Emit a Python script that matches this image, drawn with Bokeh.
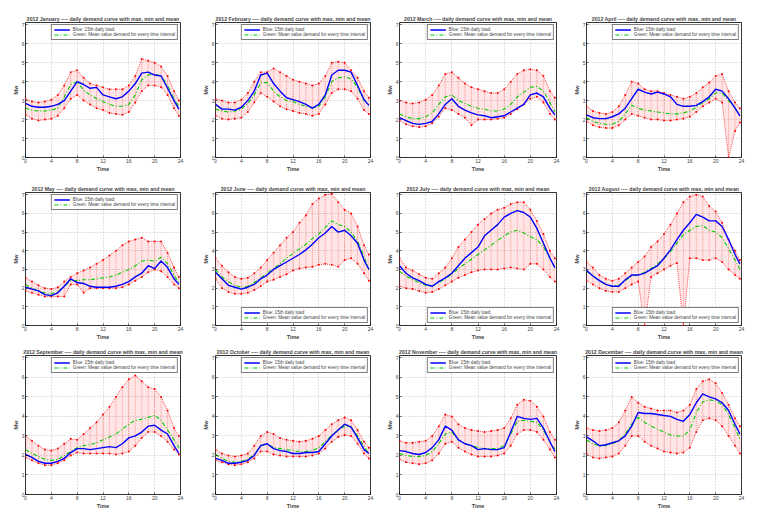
from bokeh.plotting import figure
from bokeh.layouts import column, row
from bokeh.models import Range1d, FixedTicker
from bokeh.embed import file_html
from bokeh.resources import INLINE

# Time of day (hours) of each sample
HOURS = [0, 1, 2, 3, 4, 5, 6, 7, 8, 9, 10, 11, 12, 13, 14, 15, 16, 17, 18, 19,
         20, 21, 22, 23, 23.75]
X_TICKS = [0, 4, 8, 12, 16, 20, 24]
Y_TICKS = [0, 1, 2, 3, 4, 5, 6, 7]

MONTHS = ["January", "February", "March", "April", "May", "June", "July",
          "August", "September", "October", "November", "December"]

# Load of the 15th day, mean, max and min per time interval (Mw)
JAN_LOAD15 = [2.85, 2.7, 2.65, 2.65, 2.7, 2.8, 3.0, 3.5, 4.0, 3.85, 3.65, 3.7, 3.3, 3.2, 3.1, 3.2, 3.5, 3.9, 4.45, 4.5, 4.35, 4.3, 3.65, 3.0, 2.55]
JAN_MEAN = [2.6, 2.5, 2.45, 2.45, 2.5, 2.6, 3.2, 3.85, 4.0, 3.55, 3.3, 3.1, 2.95, 2.8, 2.7, 2.7, 2.8, 3.3, 4.1, 4.35, 4.4, 4.3, 3.8, 3.1, 2.7]
JAN_MAX = [3.1, 2.95, 2.9, 2.95, 3.05, 3.3, 3.8, 4.5, 4.6, 4.2, 3.9, 3.8, 3.7, 3.6, 3.6, 3.6, 3.8, 4.3, 5.2, 5.1, 5.0, 4.8, 4.3, 3.5, 3.0]
JAN_MIN = [2.25, 2.05, 1.95, 2.0, 2.05, 2.2, 2.6, 3.1, 3.3, 3.0, 2.8, 2.6, 2.5, 2.35, 2.3, 2.25, 2.4, 2.9, 3.5, 3.8, 3.8, 3.7, 3.3, 2.6, 2.2]

FEB_LOAD15 = [2.8, 2.55, 2.55, 2.5, 2.65, 3.0, 3.5, 4.35, 4.45, 3.9, 3.5, 3.15, 3.05, 2.95, 2.8, 2.6, 2.8, 3.3, 4.35, 4.6, 4.6, 4.5, 3.8, 3.05, 2.75]
FEB_MEAN = [2.55, 2.45, 2.4, 2.45, 2.55, 2.85, 3.3, 3.95, 3.95, 3.5, 3.2, 3.0, 2.95, 2.8, 2.7, 2.6, 2.7, 3.2, 4.0, 4.2, 4.25, 4.15, 3.7, 3.0, 2.75]
FEB_MAX = [3.1, 3.0, 2.9, 2.9, 3.05, 3.4, 4.0, 4.5, 4.5, 4.7, 4.5, 4.3, 4.1, 4.0, 3.9, 3.8, 3.9, 4.3, 5.0, 5.05, 5.0, 4.6, 4.2, 3.5, 3.15]
FEB_MIN = [2.2, 2.05, 2.0, 2.05, 2.1, 2.4, 2.9, 3.4, 3.2, 2.95, 2.7, 2.55, 2.45, 2.35, 2.3, 2.2, 2.3, 2.8, 3.4, 3.6, 3.6, 3.5, 3.1, 2.5, 2.3]

MAR_LOAD15 = [2.1, 1.95, 1.8, 1.75, 1.8, 1.9, 2.3, 2.8, 3.1, 2.7, 2.5, 2.35, 2.25, 2.2, 2.1, 2.15, 2.2, 2.4, 2.6, 2.8, 3.3, 3.4, 3.2, 2.6, 2.25]
MAR_MEAN = [2.3, 2.15, 2.05, 2.05, 2.15, 2.35, 2.8, 3.2, 3.3, 3.0, 2.85, 2.7, 2.6, 2.55, 2.45, 2.45, 2.55, 2.8, 3.2, 3.45, 3.7, 3.75, 3.5, 2.9, 2.4]
MAR_MAX = [3.0, 2.9, 2.85, 2.9, 3.05, 3.3, 3.8, 4.4, 4.5, 4.2, 3.9, 3.7, 3.6, 3.5, 3.4, 3.4, 3.6, 4.0, 4.4, 4.6, 4.65, 4.6, 4.3, 3.5, 3.15]
MAR_MIN = [1.95, 1.75, 1.65, 1.6, 1.65, 1.8, 2.15, 2.6, 2.5, 2.3, 2.1, 1.7, 2.0, 2.0, 2.0, 2.05, 2.1, 2.3, 2.55, 2.8, 3.1, 3.2, 2.9, 2.3, 2.0]

APR_LOAD15 = [2.25, 2.1, 2.05, 2.05, 2.15, 2.3, 2.6, 3.1, 3.6, 3.45, 3.35, 3.45, 3.35, 3.2, 2.8, 2.7, 2.7, 2.75, 2.95, 3.2, 3.6, 3.5, 3.1, 2.6, 2.2]
APR_MEAN = [2.1, 1.9, 1.8, 1.75, 1.75, 1.9, 2.3, 2.75, 2.6, 2.5, 2.45, 2.4, 2.35, 2.3, 2.3, 2.35, 2.45, 2.65, 2.9, 3.1, 3.4, 3.4, 3.0, 2.6, 2.2]
APR_MAX = [2.7, 2.45, 2.35, 2.3, 2.4, 2.7, 3.3, 4.0, 3.9, 3.6, 3.5, 3.5, 3.4, 3.3, 3.2, 3.1, 3.2, 3.4, 3.7, 3.95, 4.3, 4.4, 3.5, 2.9, 2.6]
APR_MIN = [1.9, 1.7, 1.6, 1.55, 1.55, 1.7, 2.0, 2.3, 2.2, 2.1, 2.0, 2.0, 1.95, 1.95, 2.0, 2.05, 2.15, 2.4, 2.7, 2.9, 3.1, 2.9, 0.0, 1.4, 1.85]

MAY_LOAD15 = [2.05, 1.95, 1.85, 1.65, 1.6, 1.75, 2.1, 2.5, 2.3, 2.25, 2.1, 2.05, 2.05, 2.05, 2.1, 2.2, 2.35, 2.6, 2.8, 3.2, 3.05, 3.45, 3.1, 2.5, 2.2]
MAY_MEAN = [2.2, 2.0, 1.85, 1.75, 1.7, 1.8, 2.1, 2.4, 2.4, 2.45, 2.45, 2.5, 2.55, 2.6, 2.7, 2.85, 3.0, 3.2, 3.45, 3.5, 3.45, 3.65, 3.3, 2.7, 2.3]
MAY_MAX = [2.55, 2.35, 2.15, 2.0, 1.95, 2.05, 2.35, 2.6, 2.8, 2.95, 3.1, 3.3, 3.5, 3.75, 4.0, 4.3, 4.5, 4.6, 4.7, 4.5, 4.5, 4.5, 3.9, 3.1, 2.6]
MAY_MIN = [1.85, 1.75, 1.65, 1.55, 1.55, 1.55, 1.55, 2.2, 2.2, 1.75, 2.0, 2.0, 2.0, 2.0, 2.0, 2.05, 2.2, 2.4, 2.6, 2.85, 3.0, 2.9, 2.6, 2.2, 2.0]

JUN_LOAD15 = [2.85, 2.5, 2.15, 2.05, 1.95, 2.05, 2.2, 2.5, 2.7, 3.0, 3.2, 3.4, 3.6, 3.8, 4.05, 4.35, 4.7, 4.95, 5.3, 5.0, 5.1, 4.8, 4.4, 3.5, 3.0]
JUN_MEAN = [3.0, 2.6, 2.35, 2.15, 2.05, 2.1, 2.3, 2.55, 2.8, 3.05, 3.3, 3.6, 3.85, 4.1, 4.35, 4.65, 4.9, 5.25, 5.6, 5.4, 5.3, 5.0, 4.5, 3.7, 3.0]
JUN_MAX = [3.6, 3.2, 2.85, 2.6, 2.5, 2.55, 2.8, 3.1, 3.5, 3.9, 4.3, 4.7, 5.0, 5.5, 5.9, 6.5, 6.8, 7.0, 7.05, 6.6, 6.2, 6.0, 5.3, 4.3, 3.8]
JUN_MIN = [2.5, 2.0, 1.8, 1.7, 1.7, 1.75, 1.9, 2.1, 2.35, 2.45, 2.6, 2.75, 2.95, 3.05, 3.1, 3.15, 3.25, 3.3, 3.25, 3.15, 3.5, 3.6, 3.3, 2.8, 2.4]

JUL_LOAD15 = [3.2, 2.8, 2.55, 2.4, 2.2, 2.1, 2.35, 2.55, 2.8, 3.2, 3.6, 3.9, 4.2, 4.8, 5.1, 5.4, 5.8, 6.0, 6.15, 6.05, 5.8, 5.2, 4.4, 3.6, 3.1]
JUL_MEAN = [2.9, 2.65, 2.45, 2.3, 2.15, 2.1, 2.3, 2.5, 2.75, 3.05, 3.3, 3.55, 3.8, 4.05, 4.3, 4.55, 4.8, 5.0, 5.1, 4.95, 4.75, 4.6, 4.2, 3.6, 3.1]
JUL_MAX = [3.6, 3.1, 2.95, 2.75, 2.55, 2.5, 2.8, 3.1, 3.6, 4.2, 4.6, 5.0, 5.4, 5.7, 6.0, 6.2, 6.3, 6.5, 6.6, 6.6, 6.2, 5.6, 4.9, 4.0, 3.6]
JUL_MIN = [2.1, 2.0, 1.95, 1.85, 1.75, 1.8, 1.95, 2.15, 2.35, 2.55, 2.7, 2.85, 2.95, 3.0, 3.0, 3.0, 3.05, 3.1, 3.05, 3.0, 3.3, 3.3, 3.0, 2.6, 2.35]

AUG_LOAD15 = [2.95, 2.65, 2.4, 2.2, 2.1, 2.1, 2.45, 2.7, 2.7, 2.8, 3.0, 3.2, 3.6, 4.05, 4.6, 5.1, 5.5, 5.95, 5.8, 5.6, 5.6, 5.3, 4.6, 3.8, 3.3]
AUG_MEAN = [2.9, 2.65, 2.4, 2.2, 2.1, 2.15, 2.4, 2.65, 2.7, 2.85, 3.05, 3.3, 3.6, 3.95, 4.4, 4.85, 5.1, 5.3, 5.35, 5.1, 5.0, 4.7, 4.1, 3.5, 3.0]
AUG_MAX = [3.4, 3.1, 2.7, 2.5, 2.4, 2.5, 2.8, 3.1, 3.4, 3.7, 4.2, 4.5, 4.9, 5.4, 6.0, 6.6, 6.9, 7.0, 6.9, 6.4, 6.1, 5.5, 4.6, 4.0, 3.5]
AUG_MIN = [2.4, 2.2, 2.0, 1.85, 1.8, 1.8, 2.0, 2.2, 2.35, 0.0, 2.6, 2.8, 3.0, 3.2, 3.35, 0.0, 3.6, 3.6, 3.5, 3.5, 3.6, 3.4, 3.0, 2.7, 2.5]

SEP_LOAD15 = [2.05, 1.9, 1.7, 1.6, 1.6, 1.7, 1.85, 2.15, 2.35, 2.35, 2.3, 2.35, 2.4, 2.45, 2.4, 2.6, 2.9, 3.0, 3.2, 3.5, 3.55, 3.3, 3.1, 2.5, 2.1]
SEP_MEAN = [2.3, 2.1, 1.95, 1.8, 1.75, 1.8, 2.0, 2.2, 2.4, 2.5, 2.55, 2.65, 2.8, 2.95, 3.1, 3.35, 3.6, 3.8, 3.85, 3.95, 4.05, 3.8, 3.3, 2.8, 2.4]
SEP_MAX = [3.0, 2.75, 2.5, 2.3, 2.25, 2.35, 2.6, 2.85, 2.8, 3.1, 3.4, 3.7, 4.1, 4.5, 5.0, 5.5, 5.9, 6.1, 5.8, 5.5, 5.4, 5.0, 4.3, 3.4, 3.0]
SEP_MIN = [1.9, 1.75, 1.6, 1.5, 1.5, 1.6, 1.75, 2.0, 2.15, 2.1, 2.1, 2.1, 2.1, 2.1, 2.05, 2.1, 2.2, 2.5, 2.9, 3.2, 3.2, 3.0, 2.7, 2.3, 2.05]

OCT_LOAD15 = [1.85, 1.75, 1.6, 1.6, 1.65, 1.75, 2.0, 2.5, 2.6, 2.35, 2.25, 2.2, 2.1, 2.1, 2.15, 2.15, 2.2, 2.6, 3.0, 3.3, 3.6, 3.45, 2.9, 2.3, 2.1]
OCT_MEAN = [2.05, 1.85, 1.7, 1.65, 1.7, 1.8, 2.05, 2.5, 2.6, 2.4, 2.35, 2.3, 2.25, 2.2, 2.2, 2.25, 2.4, 2.7, 3.05, 3.3, 3.5, 3.45, 3.0, 2.45, 2.1]
OCT_MAX = [2.3, 2.1, 2.0, 1.95, 2.0, 2.1, 2.5, 3.0, 3.2, 3.1, 2.9, 2.8, 2.75, 2.7, 2.75, 2.85, 3.0, 3.3, 3.6, 3.8, 3.95, 3.8, 3.3, 2.7, 2.4]
OCT_MIN = [1.75, 1.65, 1.55, 1.5, 1.55, 1.65, 1.85, 2.2, 2.2, 2.05, 2.0, 1.95, 1.95, 1.95, 1.95, 2.0, 2.1, 2.35, 2.7, 2.95, 3.05, 3.0, 2.6, 2.1, 1.85]

NOV_LOAD15 = [2.25, 2.2, 2.1, 2.05, 2.15, 2.4, 2.8, 3.5, 3.3, 2.8, 2.6, 2.5, 2.3, 2.35, 2.3, 2.3, 2.4, 3.2, 4.0, 3.9, 3.85, 3.9, 3.4, 2.7, 2.2]
NOV_MEAN = [2.1, 2.0, 1.95, 1.95, 2.0, 2.2, 2.6, 3.1, 3.2, 2.8, 2.6, 2.5, 2.4, 2.35, 2.35, 2.35, 2.5, 3.1, 3.75, 3.8, 3.75, 3.7, 3.3, 2.7, 2.3]
NOV_MAX = [2.75, 2.65, 2.65, 2.7, 2.75, 3.0, 3.5, 4.1, 4.0, 3.6, 3.4, 3.3, 3.25, 3.2, 3.25, 3.3, 3.4, 3.9, 4.6, 4.85, 4.8, 4.5, 4.0, 3.2, 2.8]
NOV_MIN = [1.8, 1.65, 1.6, 1.55, 1.6, 1.75, 2.1, 2.6, 2.7, 2.4, 2.2, 2.05, 1.95, 1.95, 1.95, 2.0, 2.1, 2.5, 3.1, 3.3, 3.3, 3.2, 2.8, 2.3, 1.9]

DEC_LOAD15 = [2.95, 2.75, 2.5, 2.55, 2.65, 2.75, 3.0, 3.5, 4.2, 4.15, 4.15, 4.1, 4.05, 4.0, 3.85, 3.75, 4.1, 4.7, 5.15, 5.0, 4.9, 4.7, 4.3, 3.6, 3.1]
DEC_MEAN = [2.8, 2.6, 2.5, 2.5, 2.6, 2.75, 3.1, 3.6, 3.95, 3.7, 3.5, 3.35, 3.2, 3.05, 3.0, 3.0, 3.3, 4.2, 4.75, 4.85, 4.8, 4.6, 4.1, 3.4, 2.85]
DEC_MAX = [3.4, 3.3, 3.25, 3.3, 3.4, 3.7, 4.3, 5.0, 4.7, 4.5, 4.4, 4.3, 4.3, 4.3, 4.2, 4.3, 4.6, 5.4, 5.8, 5.9, 5.7, 5.2, 4.6, 3.9, 3.5]
DEC_MIN = [2.1, 1.9, 1.85, 1.9, 1.95, 2.1, 2.5, 3.0, 3.0, 2.7, 2.5, 2.35, 2.2, 2.15, 2.1, 2.15, 2.4, 3.2, 3.8, 3.9, 3.8, 3.5, 3.0, 2.5, 2.1]

SERIES = [
    (JAN_LOAD15, JAN_MEAN, JAN_MAX, JAN_MIN),
    (FEB_LOAD15, FEB_MEAN, FEB_MAX, FEB_MIN),
    (MAR_LOAD15, MAR_MEAN, MAR_MAX, MAR_MIN),
    (APR_LOAD15, APR_MEAN, APR_MAX, APR_MIN),
    (MAY_LOAD15, MAY_MEAN, MAY_MAX, MAY_MIN),
    (JUN_LOAD15, JUN_MEAN, JUN_MAX, JUN_MIN),
    (JUL_LOAD15, JUL_MEAN, JUL_MAX, JUL_MIN),
    (AUG_LOAD15, AUG_MEAN, AUG_MAX, AUG_MIN),
    (SEP_LOAD15, SEP_MEAN, SEP_MAX, SEP_MIN),
    (OCT_LOAD15, OCT_MEAN, OCT_MAX, OCT_MIN),
    (NOV_LOAD15, NOV_MEAN, NOV_MAX, NOV_MIN),
    (DEC_LOAD15, DEC_MEAN, DEC_MAX, DEC_MIN),
]
LEGEND_BOTTOM = {"June", "July", "August"}

# Panel geometry (pixels): outer sizes per grid column / row and minimum borders
COL_WIDTH = [190, 190, 190, 189]
COL_LEFT = [25, 25, 19, 15]
COL_RIGHT = [10, 10, 14, 18]
ROW_HEIGHT = [174, 168, 169]
ROW_TOP = [22, 18, 13]
ROW_BOTTOM = [15, 15, 16]

FONT = "Liberation Sans"
RED = "#ff0000"
BLUE = "#0000ff"
GREEN = "#00cc00"


def make_panel(idx):
    month = MONTHS[idx]
    load15, mean, vmax, vmin = SERIES[idx]
    r, c = divmod(idx, 4)
    p = figure(width=COL_WIDTH[c], height=ROW_HEIGHT[r],
               min_border_left=COL_LEFT[c], min_border_right=COL_RIGHT[c],
               min_border_top=ROW_TOP[r], min_border_bottom=ROW_BOTTOM[r],
               x_range=Range1d(0, 24), y_range=Range1d(0, 7.12),
               output_backend="svg", toolbar_location=None,
               title="2012 " + month + " ---- daily demand curve with max, min and mean")
    p.title.text_font = FONT
    p.title.text_font_size = "5.2px"
    p.title.text_font_style = "bold"
    p.title.align = "center"
    p.title.offset = 0
    p.title.standoff = 2

    p.outline_line_color = "black"
    p.outline_line_width = 0.8
    p.background_fill_color = "white"
    p.border_fill_color = "white"

    p.xaxis.ticker = FixedTicker(ticks=X_TICKS)
    p.yaxis.ticker = FixedTicker(ticks=Y_TICKS)
    p.xaxis.axis_label = "Time"
    p.yaxis.axis_label = "Mw"
    for ax in (p.xaxis, p.yaxis):
        ax.axis_label_text_font = FONT
        ax.axis_label_text_font_size = "5.5px"
        ax.axis_label_text_font_style = "bold"
        ax.axis_label_standoff = 0
        ax.major_label_text_font = FONT
        ax.major_label_text_font_size = "5px"
        ax.major_label_standoff = 1
        ax.major_tick_in = 2
        ax.major_tick_out = 0
        ax.minor_tick_line_color = None
        ax.axis_line_color = None
        ax.major_tick_line_width = 0.6
    p.xgrid.grid_line_color = "#9a9a9a"
    p.ygrid.grid_line_color = "#9a9a9a"
    p.xgrid.grid_line_dash = "1 2"
    p.ygrid.grid_line_dash = "1 2"
    p.xgrid.grid_line_width = 0.6
    p.ygrid.grid_line_width = 0.6

    # band between daily min and max with a vertical dotted bar per interval
    p.varea(x=HOURS, y1=vmin, y2=vmax, fill_color=RED, fill_alpha=0.10)
    p.segment(x0=HOURS, y0=vmin, x1=HOURS, y1=vmax, line_color=RED,
              line_width=0.5, line_dash="1 1", line_alpha=0.7)
    for series in (vmax, vmin):
        p.line(HOURS, series, line_color=RED, line_width=0.7, line_dash="1 1")
        p.scatter(HOURS, series, size=2, color=RED, line_width=0)

    p.line(HOURS, mean, line_color=GREEN, line_width=1.1, line_dash="4 2 1 2",
           legend_label="Green: Mean value demand for every time interval")
    p.line(HOURS, load15, line_color=BLUE, line_width=1.4,
           legend_label="Blue: 15th daily load")

    lg = p.legend[0]
    lg.items = [lg.items[1], lg.items[0]]
    lg.location = "bottom_right" if month in LEGEND_BOTTOM else "top_right"
    lg.label_text_font = FONT
    lg.label_text_font_size = "4.6px"
    lg.label_text_line_height = 1.0
    lg.label_height = 5
    lg.glyph_height = 5
    lg.glyph_width = 16
    lg.label_standoff = 3
    lg.spacing = 0
    lg.padding = 2
    lg.margin = 2
    lg.border_line_color = "black"
    lg.border_line_width = 0.6
    lg.background_fill_alpha = 1.0
    return p


panels = [make_panel(i) for i in range(12)]
layout = column(*[row(*panels[r * 4:(r + 1) * 4]) for r in range(3)])

open("out.html", "w").write(file_html(layout, INLINE))
